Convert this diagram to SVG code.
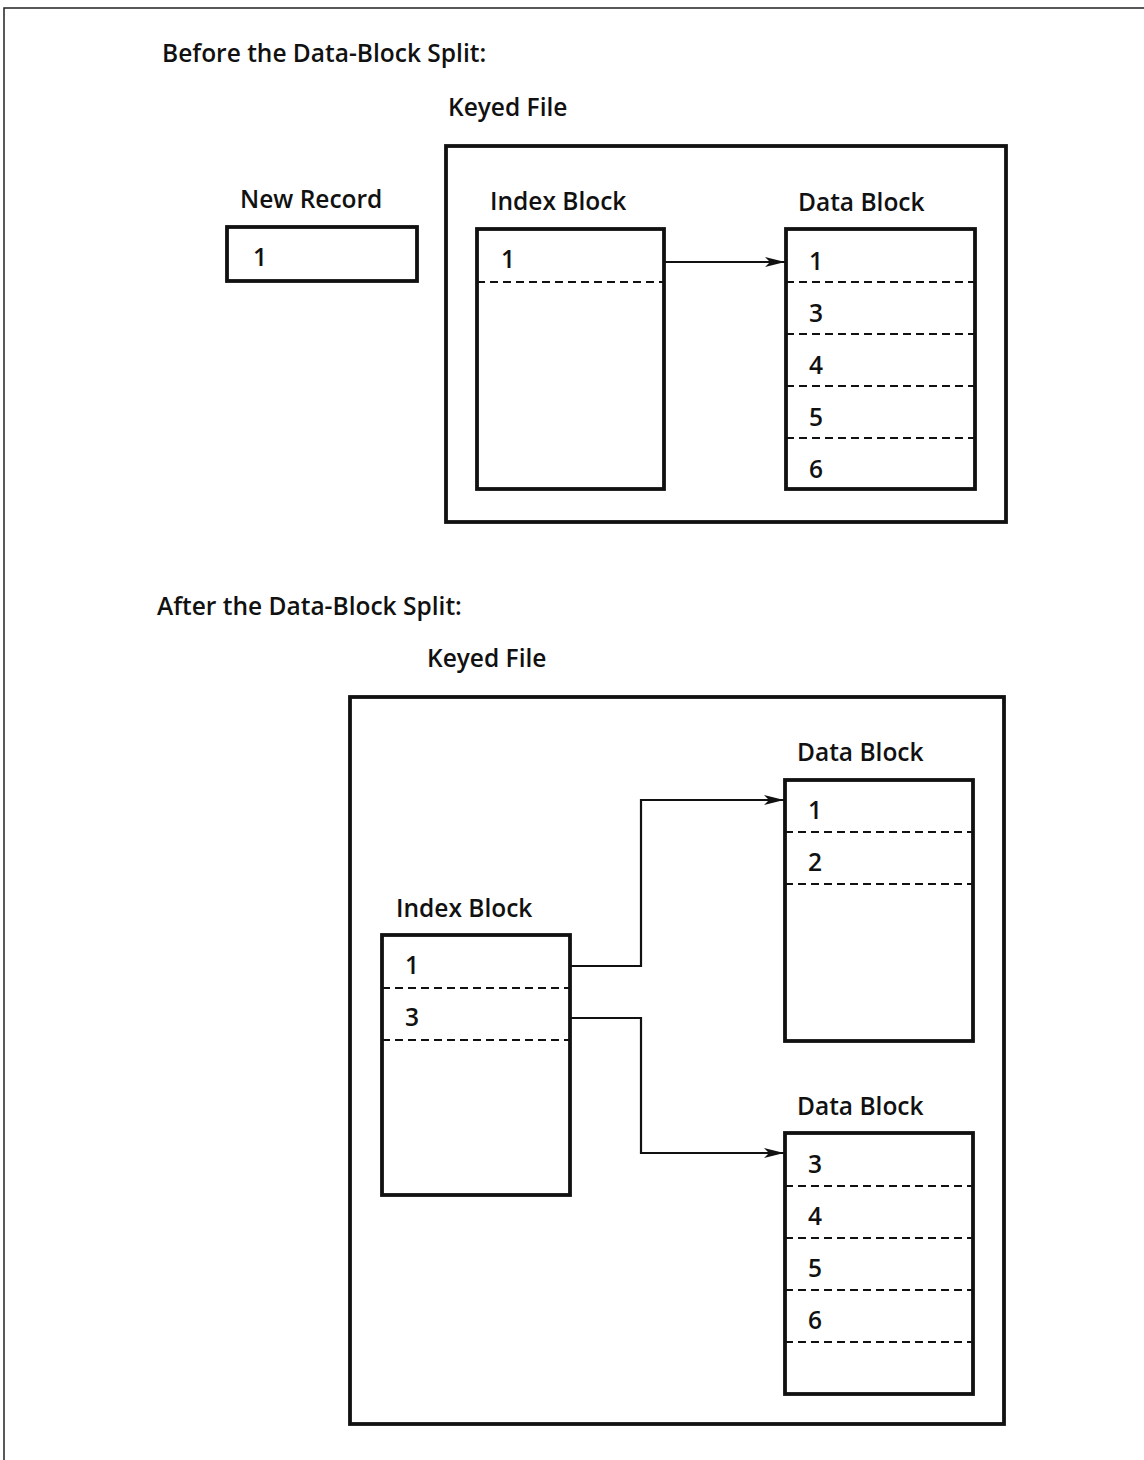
<svg xmlns="http://www.w3.org/2000/svg" width="1144" height="1460" viewBox="0 0 1144 1460">
<style>
text{font-family:"Open Sans","Liberation Sans",sans-serif;font-weight:600;font-size:24.5px;fill:#111}
.box{fill:none;stroke:#111;stroke-width:3.8}
.dash{stroke:#111;stroke-width:2.2;stroke-dasharray:8 5;fill:none}
.conn{fill:none;stroke:#111;stroke-width:2.2}
.frame{fill:none;stroke:#222;stroke-width:1.5}
</style>
<defs>
<marker id="ah" markerWidth="20" markerHeight="10" refX="20" refY="5" orient="auto" markerUnits="userSpaceOnUse">
<path d="M0,0 L20,5 L0,10 L5,5 Z" fill="#111"/>
</marker>
</defs>
<rect width="1144" height="1460" fill="#fff"/>
<g id="frame">
<path class="frame" d="M4,1460 L4,8 L1144,8"/>
</g>
<g id="titles">
<text x="162" y="62">Before the Data-Block Split:</text>
<text x="157" y="615">After the Data-Block Split:</text>
</g>
<g id="keyed-file-before">
<text x="448" y="116">Keyed File</text>
<rect class="box" x="446" y="146" width="560" height="376"/>
</g>
<g id="new-record">
<text x="240" y="208">New Record</text>
<rect class="box" x="227" y="227" width="190" height="54"/>
<text x="253" y="266">1</text>
</g>
<g id="index-block-before">
<text x="490" y="210">Index Block</text>
<rect class="box" x="477" y="229" width="187" height="260"/>
<line class="dash" x1="477" y1="282" x2="664" y2="282"/>
<text x="501" y="268">1</text>
</g>
<g id="data-block-before">
<text x="798" y="211">Data Block</text>
<rect class="box" x="786" y="229" width="189" height="260"/>
<line class="dash" x1="786" y1="282" x2="975" y2="282"/>
<line class="dash" x1="786" y1="334" x2="975" y2="334"/>
<line class="dash" x1="786" y1="386" x2="975" y2="386"/>
<line class="dash" x1="786" y1="438" x2="975" y2="438"/>
<text x="809" y="270">1</text>
<text x="809" y="322">3</text>
<text x="809" y="374">4</text>
<text x="809" y="426">5</text>
<text x="809" y="478">6</text>
</g>
<g id="keyed-file-after">
<text x="427" y="667">Keyed File</text>
<rect class="box" x="350" y="697" width="654" height="727"/>
</g>
<g id="data-block-after-1">
<text x="797" y="761">Data Block</text>
<rect class="box" x="785" y="780" width="188" height="261"/>
<line class="dash" x1="785" y1="832" x2="973" y2="832"/>
<line class="dash" x1="785" y1="884" x2="973" y2="884"/>
<text x="808" y="819">1</text>
<text x="808" y="871">2</text>
</g>
<g id="index-block-after">
<text x="396" y="917">Index Block</text>
<rect class="box" x="382" y="935" width="188" height="260"/>
<line class="dash" x1="382" y1="988" x2="570" y2="988"/>
<line class="dash" x1="382" y1="1040" x2="570" y2="1040"/>
<text x="405" y="974">1</text>
<text x="405" y="1026">3</text>
</g>
<g id="data-block-after-2">
<text x="797" y="1115">Data Block</text>
<rect class="box" x="785" y="1133" width="188" height="261"/>
<line class="dash" x1="785" y1="1186" x2="973" y2="1186"/>
<line class="dash" x1="785" y1="1238" x2="973" y2="1238"/>
<line class="dash" x1="785" y1="1290" x2="973" y2="1290"/>
<line class="dash" x1="785" y1="1342" x2="973" y2="1342"/>
<text x="808" y="1173">3</text>
<text x="808" y="1225">4</text>
<text x="808" y="1277">5</text>
<text x="808" y="1329">6</text>
</g>
<g id="connectors">
<path class="conn" d="M665,262 L785,262" marker-end="url(#ah)"/>
<path class="conn" d="M571,966 L641,966 L641,800 L784,800" marker-end="url(#ah)"/>
<path class="conn" d="M571,1018 L641,1018 L641,1153 L784,1153" marker-end="url(#ah)"/>
</g>
</svg>
